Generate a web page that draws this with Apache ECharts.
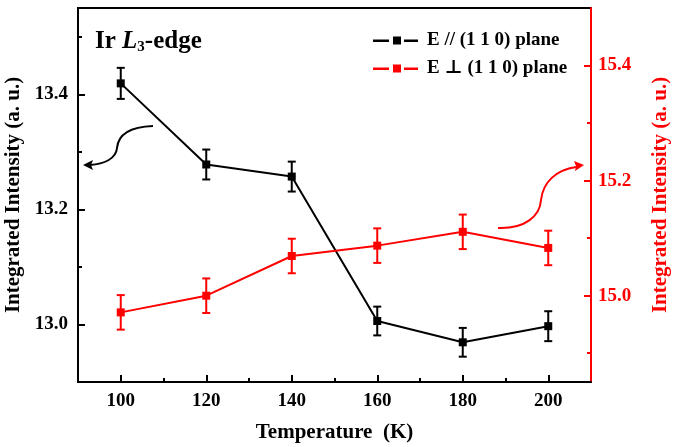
<!DOCTYPE html>
<html>
<head>
<meta charset="utf-8"/>
<title>Ir L3-edge integrated intensity</title>
<script src="https://cdn.jsdelivr.net/npm/echarts@6/dist/echarts.min.js"></script>
<style>
  html, body { margin: 0; padding: 0; background: #fff; }
  #chart { width: 675px; height: 447px; }
</style>
</head>
<body>
<div id="chart"></div>
<script type="text/javascript">
// data
var temps = [100, 120, 140, 160, 180, 200];
var parVals = [13.419, 13.278, 13.257, 13.006, 12.969, 12.997];   // E // (1 1 0), left axis
var parErr  = [0.027, 0.026, 0.026, 0.025, 0.025, 0.026];
var perpVals = [14.971, 15.000, 15.069, 15.087, 15.111, 15.083];  // E ⊥ (1 1 0), right axis
var perpErr  = [0.030, 0.030, 0.030, 0.030, 0.030, 0.030];

var xMajor = [100, 120, 140, 160, 180, 200];
var xMinor = [110, 130, 150, 170, 190];
var yLeftMajor = [13.0, 13.2, 13.4];
var yLeftMinor = [13.1, 13.3, 13.5];
var yRightMajor = [15.0, 15.2, 15.4];
var yRightMinor = [14.9, 15.1, 15.3];

var FONT = '"Liberation Serif", "Times New Roman", "DejaVu Serif", serif';
var RED = '#ff0000';
// legend icon: line - square - line, with small gaps
var LEG_ICON = 'path://M0,3h16v2.5h-16z M20,0h8v8h-8z M31,3h14v2.5h-14z';

function pairs(xs, ys) {
  return xs.map(function (x, i) { return [x, ys[i]]; });
}
function bars(xs, ys, es) {
  return xs.map(function (x, i) { return [x, ys[i] - es[i], ys[i] + es[i]]; });
}
function errorBar(color) {
  return function (params, api) {
    var lo = api.coord([api.value(0), api.value(1)]);
    var hi = api.coord([api.value(0), api.value(2)]);
    var w = 4;
    var st = { stroke: color, lineWidth: 2 };
    return {
      type: 'group',
      children: [
        { type: 'line', shape: { x1: lo[0], y1: lo[1], x2: hi[0], y2: hi[1] }, style: st },
        { type: 'line', shape: { x1: lo[0] - w, y1: lo[1], x2: lo[0] + w, y2: lo[1] }, style: st },
        { type: 'line', shape: { x1: hi[0] - w, y1: hi[1], x2: hi[0] + w, y2: hi[1] }, style: st }
      ]
    };
  };
}

var labelStyle = { fontFamily: FONT, fontWeight: 'bold', fontSize: 19 };
var nameStyle = { fontFamily: FONT, fontWeight: 'bold', fontSize: 21 };

var myChart = echarts.init(document.getElementById('chart'));
var option = {
  animation: false,
  grid: { left: 78, right: 84, top: 8, bottom: 65, outerBoundsMode: 'none',
          show: true, borderColor: '#000', borderWidth: 2 },
  title: {
    text: '{a|Ir }{b|L}{c|3}{a|-edge}',
    left: 90, top: 23,
    textStyle: {
      rich: {
        a: { fontFamily: FONT, fontWeight: 'bold', fontSize: 25, color: '#000' },
        b: { fontFamily: FONT, fontWeight: 'bold', fontStyle: 'italic', fontSize: 25, color: '#000' },
        c: { fontFamily: FONT, fontWeight: 'bold', fontSize: 15, color: '#000', padding: [12, 0, 0, 0] }
      }
    }
  },
  legend: {
    data: [
      { name: 'E // (1 1 0) plane', icon: LEG_ICON },
      { name: 'E \u22a5 (1 1 0) plane', icon: LEG_ICON }
    ],
    orient: 'vertical',
    left: 368, top: 26,
    itemWidth: 45, itemHeight: 8, itemGap: 9,
    textStyle: { fontFamily: FONT, fontWeight: 'bold', fontSize: 19, color: '#000', padding: [0, 0, 0, 4] }
  },
  xAxis: [
    {
      type: 'value', min: 90, max: 210,
      name: 'Temperature  (K)', nameLocation: 'middle', nameGap: 40,
      nameTextStyle: Object.assign({ color: '#000' }, nameStyle),
      axisLine: { lineStyle: { color: '#000', width: 2 } },
      axisTick: { inside: true, length: 7, lineStyle: { width: 2 }, customValues: xMajor },
      axisLabel: Object.assign({ color: '#000', margin: 10, customValues: xMajor }, labelStyle),
      splitLine: { show: false }
    },
    {
      type: 'value', min: 90, max: 210, position: 'bottom',
      axisLine: { show: false },
      axisTick: { inside: true, length: 4, lineStyle: { color: '#000', width: 2 }, customValues: xMinor },
      axisLabel: { show: false },
      splitLine: { show: false }
    }
  ],
  yAxis: [
    {
      type: 'value', min: 12.9, max: 13.55, position: 'left',
      name: 'Integrated Intensity (a. u.)', nameLocation: 'middle', nameGap: 54,
      nameTextStyle: Object.assign({ color: '#000' }, nameStyle),
      axisLine: { show: true, lineStyle: { color: '#000', width: 2 } },
      axisTick: { show: true, inside: true, length: 7, lineStyle: { width: 2 }, customValues: yLeftMajor },
      axisLabel: Object.assign({ color: '#000', margin: 10, customValues: yLeftMajor,
        formatter: function (v) { return v.toFixed(1); } }, labelStyle),
      splitLine: { show: false }
    },
    {
      type: 'value', min: 14.85, max: 15.5, position: 'right',
      name: 'Integrated Intensity (a. u.)', nameLocation: 'middle', nameGap: 59, nameRotate: 90,
      nameTextStyle: Object.assign({ color: RED }, nameStyle),
      axisLine: { show: true, lineStyle: { color: RED, width: 2 } },
      axisTick: { show: true, inside: true, length: 7, lineStyle: { width: 2 }, customValues: yRightMajor },
      axisLabel: Object.assign({ color: RED, margin: 7, customValues: yRightMajor,
        formatter: function (v) { return v.toFixed(1); } }, labelStyle),
      splitLine: { show: false }
    },
    {
      type: 'value', min: 12.9, max: 13.55, position: 'left',
      axisLine: { show: false },
      axisTick: { show: true, inside: true, length: 4, lineStyle: { color: '#000', width: 2 }, customValues: yLeftMinor },
      axisLabel: { show: false },
      splitLine: { show: false }
    },
    {
      type: 'value', min: 14.85, max: 15.5, position: 'right',
      axisLine: { show: false },
      axisTick: { show: true, inside: true, length: 4, lineStyle: { color: RED, width: 2 }, customValues: yRightMinor },
      axisLabel: { show: false },
      splitLine: { show: false }
    }
  ],
  series: [
    {
      name: 'E // (1 1 0) plane', type: 'line', xAxisIndex: 0, yAxisIndex: 0,
      data: pairs(temps, parVals),
      symbol: 'rect', symbolSize: 8,
      lineStyle: { color: '#000', width: 2 },
      itemStyle: { color: '#000' }
    },
    {
      name: 'E \u22a5 (1 1 0) plane', type: 'line', xAxisIndex: 0, yAxisIndex: 1,
      data: pairs(temps, perpVals),
      symbol: 'rect', symbolSize: 8,
      lineStyle: { color: RED, width: 2 },
      itemStyle: { color: RED }
    },
    {
      type: 'custom', xAxisIndex: 0, yAxisIndex: 0,
      data: bars(temps, parVals, parErr),
      encode: { x: 0, y: [1, 2] },
      renderItem: errorBar('#000'), z: 3
    },
    {
      type: 'custom', xAxisIndex: 0, yAxisIndex: 1,
      data: bars(temps, perpVals, perpErr),
      encode: { x: 0, y: [1, 2] },
      renderItem: errorBar(RED), z: 3
    }
  ],
  graphic: [
    // black arrow pointing to left axis
    { type: 'bezierCurve', shape: { x1: 153, y1: 126, cpx1: 126, cpy1: 127, cpx2: 118, cpy2: 137, x2: 117, y2: 148 },
      style: { stroke: '#000', lineWidth: 2, fill: null } },
    { type: 'bezierCurve', shape: { x1: 117, y1: 148, cpx1: 116, cpy1: 159, cpx2: 104, cpy2: 164, x2: 90, y2: 165 },
      style: { stroke: '#000', lineWidth: 2, fill: null } },
    { type: 'polygon', shape: { points: [[83, 165], [93, 160], [91, 165], [93, 170]] }, style: { fill: '#000' } },
    // red arrow pointing to right axis
    { type: 'bezierCurve', shape: { x1: 498, y1: 228, cpx1: 525, cpy1: 229, cpx2: 540, cpy2: 216, x2: 541, y2: 200 },
      style: { stroke: RED, lineWidth: 2, fill: null } },
    { type: 'bezierCurve', shape: { x1: 541, y1: 200, cpx1: 543, cpy1: 182, cpx2: 556, cpy2: 170, x2: 576, y2: 167 },
      style: { stroke: RED, lineWidth: 2, fill: null } },
    { type: 'polygon', shape: { points: [[584, 165], [574, 161], [576, 166], [575, 171]] }, style: { fill: RED } }
  ]
};
myChart.setOption(option);
</script>
</body>
</html>
